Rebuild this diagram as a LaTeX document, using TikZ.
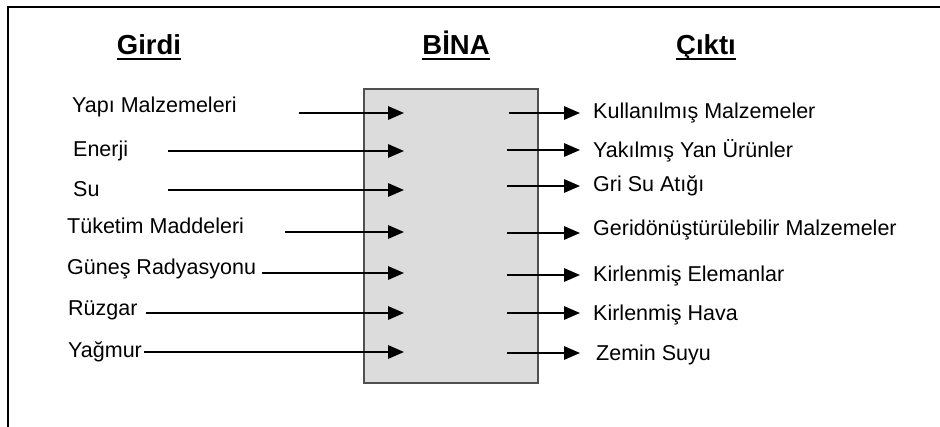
\documentclass[tikz,border=0pt]{standalone}
\usepackage{fontspec}
\setmainfont{Liberation Sans}
\usetikzlibrary{arrows.meta}
\definecolor{boxfill}{HTML}{DCDCDC}
\definecolor{boxline}{HTML}{505050}
\begin{document}
\begin{tikzpicture}[x=1pt,y=-1pt,
  lbl/.style={font=\fontsize{21.5}{25}\selectfont, inner sep=0pt, anchor=base west},
  head/.style={font=\fontsize{27.5}{31}\selectfont\bfseries, inner sep=0pt, anchor=base},
  flow/.style={line width=1.5pt, -{Triangle[length=16pt,width=13.5pt]}},
  uline/.style={line width=2pt}]
\useasboundingbox (0,0) rectangle (940,427);
% frame
\draw[line width=1.8pt] (940,7) -- (8,7) -- (8,427);
% headings
\node[head] (hg) at (149,55) {Girdi};
\node[head] (hb) at (456,55) {BİNA};
\node[head] (hc) at (706,55) {Çıktı};
\foreach \h in {hg,hb,hc}{
  \draw[uline] ([yshift=-4pt]\h.base west) -- ([yshift=-4pt]\h.base east);
}
% building box
\node[draw=boxline, fill=boxfill, line width=1.3pt, minimum width=174pt, minimum height=294pt, inner sep=0pt] (bina) at (451,236) {};
% inputs
\node[lbl] (i1) at (72,113) {Yapı Malzemeleri};
\node[lbl] (i2) at (73,157) {Enerji};
\node[lbl] (i3) at (73,197) {Su};
\node[lbl] (i4) at (67,234) {Tüketim Maddeleri};
\node[lbl] (i5) at (67,275) {Güneş Radyasyonu};
\node[lbl] (i6) at (68,316) {Rüzgar};
\node[lbl] (i7) at (68,358) {Yağmur};
\coordinate (i1s) at (299,113); \coordinate (i1e) at (404,113);
\coordinate (i2s) at (168,151); \coordinate (i2e) at (404,151);
\coordinate (i3s) at (168,190); \coordinate (i3e) at (404,190);
\coordinate (i4s) at (285,232); \coordinate (i4e) at (404,232);
\coordinate (i5s) at (262,273); \coordinate (i5e) at (404,273);
\coordinate (i6s) at (146,313); \coordinate (i6e) at (404,313);
\coordinate (i7s) at (144,352); \coordinate (i7e) at (404,352);
\foreach \k in {1,...,7}{
  \draw[flow] (i\k s) -- (i\k e);
}
% outputs
\node[lbl] (o1) at (593,119) {Kullanılmış Malzemeler};
\node[lbl] (o2) at (593,158) {Yakılmış Yan Ürünler};
\node[lbl] (o3) at (593,192) {Gri Su Atığı};
\node[lbl] (o4) at (593,236) {Geridönüştürülebilir Malzemeler};
\node[lbl] (o5) at (593,282) {Kirlenmiş Elemanlar};
\node[lbl] (o6) at (593,321) {Kirlenmiş Hava};
\node[lbl] (o7) at (596,361) {Zemin Suyu};
\coordinate (o1s) at (509,113); \coordinate (o1e) at (580,113);
\coordinate (o2s) at (507,150); \coordinate (o2e) at (580,150);
\coordinate (o3s) at (507,186); \coordinate (o3e) at (580,186);
\coordinate (o4s) at (507,233); \coordinate (o4e) at (580,233);
\coordinate (o5s) at (507,275); \coordinate (o5e) at (580,275);
\coordinate (o6s) at (507,313); \coordinate (o6e) at (580,313);
\coordinate (o7s) at (507,353); \coordinate (o7e) at (580,353);
\foreach \k in {1,...,7}{
  \draw[flow] (o\k s) -- (o\k e);
}
\end{tikzpicture}
\end{document}
